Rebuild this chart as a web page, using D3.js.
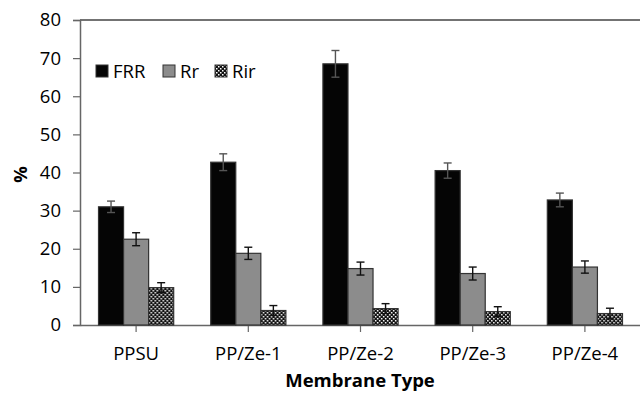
<!DOCTYPE html>
<html>
<head>
<meta charset="utf-8">
<script src="https://cdn.jsdelivr.net/npm/d3@7"></script>
<style>
  body { margin: 0; background: #fff; }
  text { font-family: "Open Sans", Lato, sans-serif; fill: #000; }
</style>
</head>
<body>
<div class="chart"></div>
<script>
const categories = ['PPSU', 'PP/Ze-1', 'PP/Ze-2', 'PP/Ze-3', 'PP/Ze-4'];
const seriesNames = ['FRR', 'Rr', 'Rir'];
const frr = [31.0, 42.7, 68.5, 40.5, 32.8];
const frrErr = [1.5, 2.2, 3.5, 2.0, 1.8];
const rr = [22.5, 18.8, 14.8, 13.5, 15.2];
const rrErr = [1.7, 1.6, 1.7, 1.7, 1.6];
const rir = [9.8, 3.8, 4.3, 3.5, 3.0];
const rirErr = [1.3, 1.3, 1.3, 1.3, 1.4];
const yTicks = [0, 10, 20, 30, 40, 50, 60, 70, 80];

const width = 640, height = 393;
const margin = { top: 20, right: -1, bottom: 68, left: 80 };
const fontSize = '18.5px';

const svg = d3.select('.chart')
  .append('svg')
  .attr('width', width)
  .attr('height', height);

// checkered pattern for Rir
const defs = svg.append('defs');
const pat = defs.append('pattern')
  .attr('id', 'checker')
  .attr('patternUnits', 'userSpaceOnUse')
  .attr('width', 4)
  .attr('height', 4);
pat.append('rect').attr('width', 4).attr('height', 4).attr('fill', '#111');
pat.append('rect').attr('x', 0).attr('y', 0).attr('width', 1.5).attr('height', 1.5).attr('fill', '#fff');
pat.append('rect').attr('x', 2).attr('y', 2).attr('width', 1.5).attr('height', 1.5).attr('fill', '#fff');

const fills = { FRR: '#050505', Rr: '#8c8c8c', Rir: 'url(#checker)' };

const x0 = d3.scaleBand()
  .domain(categories)
  .range([margin.left, width - margin.right])
  .paddingInner(0.33)
  .paddingOuter(0.165);

const x1 = d3.scaleBand()
  .domain(seriesNames)
  .range([0, x0.bandwidth()]);

const y = d3.scaleLinear()
  .domain([0, 80])
  .range([height - margin.bottom, margin.top]);

const rows = categories.map((c, i) => ({
  cat: c,
  vals: [
    { key: 'FRR', v: frr[i], e: frrErr[i] },
    { key: 'Rr', v: rr[i], e: rrErr[i] },
    { key: 'Rir', v: rir[i], e: rirErr[i] }
  ]
}));

// top frame line
svg.append('line')
  .attr('x1', margin.left).attr('x2', width)
  .attr('y1', y(80)).attr('y2', y(80))
  .attr('stroke', '#444').attr('stroke-width', 1.5);

// y axis
const yAxis = svg.append('g')
  .attr('transform', 'translate(' + margin.left + ',0)')
  .call(d3.axisLeft(y).tickValues(yTicks).tickSize(7).tickPadding(12));
yAxis.select('.domain').attr('stroke', '#666').attr('stroke-width', 1.5);
yAxis.selectAll('.tick line').attr('stroke', '#666').attr('stroke-width', 1.2);
yAxis.selectAll('text').style('font-size', fontSize).attr('fill', '#000');

// x axis
const xAxis = svg.append('g')
  .attr('transform', 'translate(0,' + y(0) + ')')
  .call(d3.axisBottom(x0).tickSize(7).tickSizeOuter(0).tickPadding(15));
xAxis.select('.domain').attr('stroke', '#666').attr('stroke-width', 1.5);
xAxis.selectAll('.tick line').attr('stroke', '#666').attr('stroke-width', 1.2);
xAxis.selectAll('text').style('font-size', fontSize).attr('fill', '#000');

// bars
const groups = svg.append('g').selectAll('g')
  .data(rows)
  .enter()
  .append('g')
  .attr('transform', d => 'translate(' + x0(d.cat) + ',0)');

groups.selectAll('rect')
  .data(d => d.vals)
  .enter()
  .append('rect')
  .attr('x', d => x1(d.key))
  .attr('y', d => y(d.v))
  .attr('width', x1.bandwidth())
  .attr('height', d => y(0) - y(d.v))
  .attr('fill', d => fills[d.key])
  .attr('stroke', '#333')
  .attr('stroke-width', 1.2);

// error bars
const eb = groups.selectAll('g.err')
  .data(d => d.vals)
  .enter()
  .append('g')
  .attr('class', 'err')
  .attr('stroke', d => d.key === 'FRR' ? '#555' : '#111')
  .attr('stroke-width', 1.4);
const cx = d => x1(d.key) + x1.bandwidth() / 2;
eb.append('line')
  .attr('x1', cx).attr('x2', cx)
  .attr('y1', d => y(d.v - d.e)).attr('y2', d => y(d.v + d.e));
eb.append('line')
  .attr('x1', d => cx(d) - 4).attr('x2', d => cx(d) + 4)
  .attr('y1', d => y(d.v + d.e)).attr('y2', d => y(d.v + d.e));
eb.append('line')
  .attr('x1', d => cx(d) - 4).attr('x2', d => cx(d) + 4)
  .attr('y1', d => y(d.v - d.e)).attr('y2', d => y(d.v - d.e));

// legend
const legendX = [96, 163, 215];
const legend = svg.append('g');
seriesNames.forEach((s, i) => {
  legend.append('rect')
    .attr('x', legendX[i]).attr('y', 65)
    .attr('width', 12).attr('height', 12)
    .attr('fill', fills[s])
    .attr('stroke', '#333').attr('stroke-width', 1);
  legend.append('text')
    .attr('x', legendX[i] + 17).attr('y', 78)
    .style('font-size', fontSize)
    .text(s);
});

// axis titles
svg.append('text')
  .attr('transform', 'translate(27,' + (y(40) + 2) + ') rotate(-90)')
  .attr('text-anchor', 'middle')
  .style('font-size', fontSize)
  .style('font-weight', 'bold')
  .text('%');

svg.append('text')
  .attr('x', (margin.left + width) / 2)
  .attr('y', 387)
  .attr('text-anchor', 'middle')
  .style('font-size', fontSize)
  .style('font-weight', 'bold')
  .text('Membrane Type');
</script>
</body>
</html>
